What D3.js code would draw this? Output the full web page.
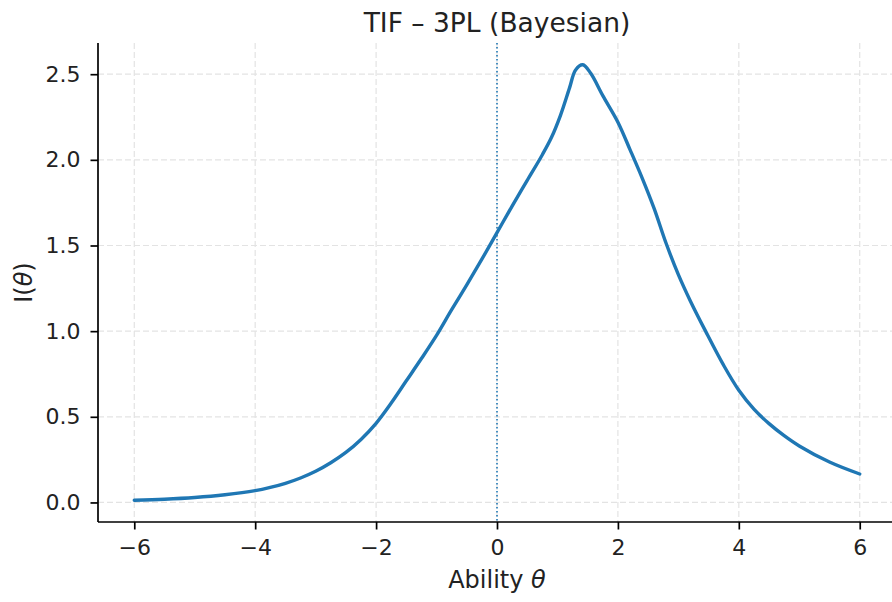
<!DOCTYPE html>
<html>
<head>
<meta charset="utf-8">
<script src="https://cdn.jsdelivr.net/npm/d3@7"></script>
<style>
  html, body { margin: 0; padding: 0; background: #fff; }
  svg { display: block; font-family: "DejaVu Sans", sans-serif; }
</style>
</head>
<body>
<svg id="chart" width="892" height="602"></svg>
<script>
// ---- data ----
const theta = [-6, -5.5, -5, -4.5, -4, -3.75, -3.5, -3.25, -3, -2.75, -2.5, -2.25, -2, -1.75, -1.5,
  -1.25, -1, -0.75, -0.5, -0.25, 0, 0.25, 0.5, 0.75, 0.9, 1.05, 1.2, 1.3, 1.42, 1.55, 1.75, 2,
  2.2, 2.4, 2.6, 2.8, 3, 3.2, 3.45, 3.75, 4, 4.25, 4.5, 4.75, 5, 5.5, 6];
const info = [0.013, 0.019, 0.029, 0.045, 0.069, 0.088, 0.112, 0.143, 0.182, 0.232, 0.292, 0.368,
  0.462, 0.58, 0.71, 0.84, 0.975, 1.125, 1.27, 1.42, 1.575, 1.73, 1.88, 2.03, 2.13, 2.26, 2.42,
  2.525, 2.555, 2.505, 2.375, 2.22, 2.06, 1.895, 1.715, 1.51, 1.33, 1.175, 1.0, 0.80, 0.655,
  0.545, 0.46, 0.39, 0.33, 0.236, 0.166];
const xTicks = [-6, -4, -2, 0, 2, 4, 6];
const yTicks = [0, 0.5, 1.0, 1.5, 2.0, 2.5];
const titleText = "TIF \u2013 3PL (Bayesian)";
const xLabelText = "Ability ";
const yLabelText = "I(";

// ---- layout ----
const svg = d3.select("#chart");
const L = 98, R = 896, T = 43, B = 522;
const blue = "#1f77b4";

const xExt = d3.extent(theta), yExt = d3.extent(info);
const xm = (xExt[1] - xExt[0]) * 0.05, ym = (yExt[1] - yExt[0]) * 0.05;
const x = d3.scaleLinear().domain([xExt[0] - xm, xExt[1] + xm]).range([L, R]);
const y = d3.scaleLinear().domain([yExt[0] - ym, yExt[1] + ym]).range([B, T]);

// grid
const grid = svg.append("g").attr("stroke", "#e3e3e3").attr("stroke-width", 1.2)
  .attr("stroke-dasharray", "6,3");
grid.selectAll(".gx").data(xTicks).join("line")
  .attr("x1", d => x(d)).attr("x2", d => x(d)).attr("y1", T).attr("y2", B);
grid.selectAll(".gy").data(yTicks).join("line")
  .attr("y1", d => y(d)).attr("y2", d => y(d)).attr("x1", L).attr("x2", R);

// vertical dotted line at theta = 0
svg.append("line")
  .attr("x1", x(0)).attr("x2", x(0)).attr("y1", T).attr("y2", B)
  .attr("stroke", blue).attr("stroke-width", 1.6).attr("stroke-dasharray", "1.6,2.4");

// curve
const line = d3.line().x((d, i) => x(theta[i])).y(d => y(d)).curve(d3.curveCatmullRom.alpha(0.5));
svg.append("path").datum(info)
  .attr("d", line).attr("fill", "none").attr("stroke", blue)
  .attr("stroke-width", 3.4).attr("stroke-linejoin", "round").attr("stroke-linecap", "round");

// axes
const fs = 22;
const xAxis = svg.append("g").attr("transform", `translate(0,${B})`)
  .call(d3.axisBottom(x).tickValues(xTicks).tickSize(7.5).tickPadding(10)
    .tickFormat(d => (d < 0 ? "\u2212" : "") + Math.abs(d)));
const yAxis = svg.append("g").attr("transform", `translate(${L},0)`)
  .call(d3.axisLeft(y).tickValues(yTicks).tickSize(7.5).tickPadding(10)
    .tickFormat(d3.format(".1f")));
[xAxis, yAxis].forEach(g => {
  g.selectAll("path.domain").attr("stroke", "#000").attr("stroke-width", 1.7);
  g.selectAll(".tick line").attr("stroke", "#000").attr("stroke-width", 1.7);
  g.selectAll(".tick text").attr("fill", "#222").style("font-size", fs + "px")
    .style("font-family", "DejaVu Sans");
});
xAxis.select("path.domain").attr("d", `M${L},0H${R}`);
yAxis.select("path.domain").attr("d", `M0,${T}V${B}`);

// title
svg.append("text").attr("x", (L + R) / 2).attr("y", 32).attr("text-anchor", "middle")
  .attr("fill", "#222").style("font-size", "26.5px").text(titleText);

// x label
const xl = svg.append("text").attr("x", (L + R) / 2).attr("y", 588).attr("text-anchor", "middle")
  .attr("fill", "#222").style("font-size", "24px");
xl.append("tspan").text(xLabelText);
xl.append("tspan").style("font-style", "italic").text("\u03b8");

// y label
const yl = svg.append("text").attr("transform", `translate(32,${(T + B) / 2}) rotate(-90)`)
  .attr("text-anchor", "middle").attr("fill", "#222").style("font-size", "24px");
yl.append("tspan").text(yLabelText);
yl.append("tspan").style("font-style", "italic").text("\u03b8");
yl.append("tspan").text(")");
</script>
</body>
</html>
